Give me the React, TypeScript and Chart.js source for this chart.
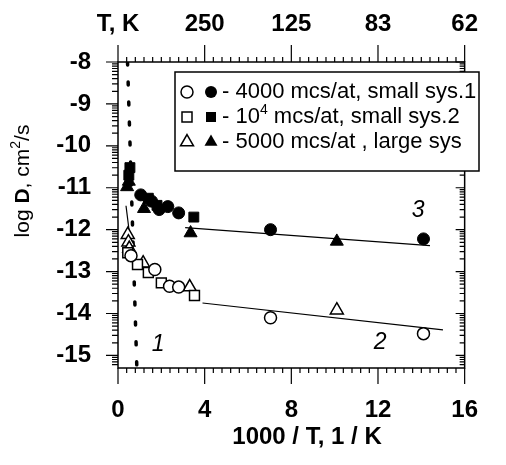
import React, { useEffect, useRef } from 'react';
import { Chart, registerables } from 'chart.js';
Chart.register(...registerables);

const FONT = "'Liberation Sans', Arial, sans-serif";

const xTicks = [0, 4, 8, 12, 16];
const topTickLabels = ['T, K', '250', '125', '83', '62'];
const yTicks = [-8, -9, -10, -11, -12, -13, -14, -15];

const filledCircleX = [1.05, 1.55, 1.9, 2.3, 2.8, 7.04, 14.1];
const filledCircleY = [-11.17, -11.32, -11.52, -11.45, -11.6, -12.0, -12.22];
const filledSquareX = [0.55, 0.5, 1.4, 1.8, 3.5];
const filledSquareY = [-10.52, -10.7, -11.25, -11.42, -11.7];
const filledTriangleX = [0.5, 0.42, 1.2, 3.35, 10.1];
const filledTriangleY = [-10.85, -10.98, -11.5, -12.08, -12.28];

const openCircleX = [0.6, 1.7, 2.38, 2.8, 7.04, 14.1];
const openCircleY = [-12.62, -12.95, -13.35, -13.37, -14.1, -14.48];
const openSquareX = [0.45, 0.9, 1.4, 2.0, 3.53];
const openSquareY = [-12.55, -12.83, -13.02, -13.27, -13.57];
const openTriangleX = [0.45, 0.48, 0.52, 1.16, 3.31, 10.1];
const openTriangleY = [-12.12, -12.3, -12.45, -12.8, -13.37, -13.92];

const line1X = [0.37, 0.73];
const line1Y = [-11.43, -12.94];
const line2X = [3.9, 15.0];
const line2Y = [-13.75, -14.39];
const line3X = [3.1, 14.4];
const line3Y = [-11.95, -12.38];
const dottedX = [0.44, 0.87];
const dottedY = [-8, -15.3];

const curveLabels = ['1', '2', '3'];
const curveLabelX = [1.85, 12.1, 13.85];
const curveLabelY = [-14.74, -14.7, -11.55];

const legendTexts = ['- 4000 mcs/at, small sys.1', '- 10|4| mcs/at, small sys.2', '- 5000 mcs/at , large sys'];

const pts = (xs: number[], ys: number[]) => xs.map((x, i) => ({ x, y: ys[i] }));

function drawSymbol(ctx: CanvasRenderingContext2D, shape: string, x: number, y: number, filled: boolean) {
  ctx.beginPath();
  if (shape === 'circle') {
    ctx.arc(x, y, 6, 0, Math.PI * 2);
  } else if (shape === 'rect') {
    const s = 5;
    ctx.rect(x - s, y - s, 2 * s, 2 * s);
  } else {
    const r = 7.5;
    ctx.moveTo(x, y - r);
    ctx.lineTo(x + r * Math.sin((2 * Math.PI) / 3), y - r * Math.cos((2 * Math.PI) / 3));
    ctx.lineTo(x + r * Math.sin((4 * Math.PI) / 3), y - r * Math.cos((4 * Math.PI) / 3));
    ctx.closePath();
  }
  if (filled) {
    ctx.fillStyle = '#000';
    ctx.fill();
  } else {
    ctx.fillStyle = '#fff';
    ctx.fill();
    ctx.lineWidth = 1.5;
    ctx.strokeStyle = '#000';
    ctx.stroke();
  }
}

const decorPlugin = {
  id: 'decor',
  afterDraw(chart: any) {
    const { ctx, chartArea: a, scales } = chart;
    const xs = scales.x;
    const ys = scales.y;
    ctx.save();
    ctx.strokeStyle = '#000';
    ctx.lineWidth = 1.5;
    ctx.strokeRect(a.left, a.top, a.right - a.left, a.bottom - a.top);

    ctx.lineWidth = 1.2;
    ctx.beginPath();
    for (let i = 0; i <= 40; i++) {
      const v = i * 0.4;
      const major = i % 10 === 0;
      const px = xs.getPixelForValue(v);
      ctx.moveTo(px, a.bottom);
      ctx.lineTo(px, a.bottom + (major ? 16 : 5));
      ctx.moveTo(px, a.top);
      ctx.lineTo(px, a.top - (major ? 17 : 5));
    }
    const ymin = ys.min, ymax = ys.max;
    for (let n = -16; n <= -8; n++) {
      if (n >= ymin - 1e-6 && n <= ymax + 1e-6) {
        const py = ys.getPixelForValue(n);
        ctx.moveTo(a.left, py);
        ctx.lineTo(a.left - 12, py);
        ctx.moveTo(a.right, py);
        ctx.lineTo(a.right - 9, py);
      }
      for (let k = 2; k <= 9; k++) {
        const v = n + Math.log10(k);
        if (v < ymin || v > ymax) continue;
        const py = ys.getPixelForValue(v);
        ctx.moveTo(a.left, py);
        ctx.lineTo(a.left - 6, py);
        ctx.moveTo(a.right, py);
        ctx.lineTo(a.right - 5, py);
      }
    }
    ctx.stroke();

    // curve labels
    ctx.fillStyle = '#000';
    ctx.font = `italic 23px ${FONT}`;
    ctx.textAlign = 'center';
    ctx.textBaseline = 'middle';
    curveLabels.forEach((t, i) => {
      ctx.fillText(t, xs.getPixelForValue(curveLabelX[i]), ys.getPixelForValue(curveLabelY[i]));
    });

    // x title
    ctx.font = `bold 24px ${FONT}`;
    ctx.fillText('1000 / T, 1 / K', 307, 437);

    // y title
    ctx.save();
    ctx.translate(23, 181);
    ctx.rotate(-Math.PI / 2);
    const parts: [string, string, number][] = [
      ['log ', `21px ${FONT}`, 0],
      ['D', `bold 21px ${FONT}`, 0],
      [', cm', `21px ${FONT}`, 0],
      ['2', `14px ${FONT}`, -7],
      ['/s', `21px ${FONT}`, 0],
    ];
    let total = 0;
    parts.forEach(([t, f]) => { ctx.font = f; total += ctx.measureText(t).width; });
    let cx = -total / 2;
    ctx.textAlign = 'left';
    parts.forEach(([t, f, dy]) => {
      ctx.font = f;
      ctx.fillText(t, cx, dy);
      cx += ctx.measureText(t).width;
    });
    ctx.restore();

    // legend
    const bx = 175, by = 72, bw = 304, bh = 99;
    ctx.fillStyle = '#fff';
    ctx.fillRect(bx, by, bw, bh);
    ctx.lineWidth = 1.5;
    ctx.strokeStyle = '#000';
    ctx.strokeRect(bx, by, bw, bh);
    const shapes = ['circle', 'rect', 'triangle'];
    const rowY = [92, 117, 142];
    shapes.forEach((s, i) => {
      drawSymbol(ctx, s, 187, rowY[i], false);
      drawSymbol(ctx, s, 211, rowY[i], true);
      const segs = legendTexts[i].split('|');
      let tx = 222;
      ctx.fillStyle = '#000';
      ctx.textAlign = 'left';
      ctx.textBaseline = 'middle';
      segs.forEach((seg, j) => {
        const sup = j % 2 === 1;
        ctx.font = sup ? `14px ${FONT}` : `22px ${FONT}`;
        ctx.fillText(seg, tx, rowY[i] + (sup ? -7 : 0));
        tx += ctx.measureText(seg).width;
      });
    });
    ctx.restore();
  },
};

export default function App() {
  const ref = useRef<HTMLCanvasElement>(null);
  useEffect(() => {
    if (!ref.current) return;
    const open = { backgroundColor: '#fff', borderColor: '#000', borderWidth: 1.5 };
    const filled = { backgroundColor: '#000', borderColor: '#000', borderWidth: 1 };
    const lineDs = (xs: number[], ys: number[], extra: any = {}) => ({
      type: 'line',
      data: pts(xs, ys),
      showLine: true,
      borderColor: '#000',
      borderWidth: 1.2,
      pointRadius: 0,
      fill: false,
      ...extra,
    });
    const tickFont = { family: FONT, size: 24, weight: 'bold' };
    const chart = new Chart(ref.current, {
      type: 'scatter',
      data: {
        datasets: [
          { data: pts(filledCircleX, filledCircleY), pointStyle: 'circle', pointRadius: 6, ...filled },
          { data: pts(filledSquareX, filledSquareY), pointStyle: 'rect', pointRadius: 7, ...filled },
          { data: pts(filledTriangleX, filledTriangleY), pointStyle: 'triangle', pointRadius: 7.5, ...filled },
          { data: pts(openCircleX, openCircleY), pointStyle: 'circle', pointRadius: 6, ...open },
          { data: pts(openSquareX, openSquareY), pointStyle: 'rect', pointRadius: 7, ...open },
          { data: pts(openTriangleX, openTriangleY), pointStyle: 'triangle', pointRadius: 7.5, ...open },
          lineDs(line1X, line1Y),
          lineDs(line2X, line2Y),
          lineDs(line3X, line3Y),
          lineDs(dottedX, dottedY, { borderWidth: 3.5, borderDash: [3, 17], borderCapStyle: 'round' }),
        ] as any,
      },
      options: {
        animation: false,
        responsive: false,
        layout: { padding: { left: 0, right: 16, top: 0, bottom: 0 } },
        plugins: { legend: { display: false }, tooltip: { enabled: false } },
        scales: {
          x: {
            type: 'linear',
            position: 'bottom',
            min: 0,
            max: 16,
            afterBuildTicks: (s: any) => { s.ticks = xTicks.map((v) => ({ value: v })); },
            afterFit: (s: any) => { s.height = 97; },
            grid: { display: false, drawTicks: false },
            border: { display: false },
            ticks: { color: '#000', font: tickFont, padding: 28, maxRotation: 0, callback: (v: any) => String(v) },
          },
          x2: {
            type: 'linear',
            position: 'top',
            min: 0,
            max: 16,
            afterBuildTicks: (s: any) => { s.ticks = xTicks.map((v) => ({ value: v })); },
            afterFit: (s: any) => { s.height = 62; },
            grid: { display: false, drawTicks: false },
            border: { display: false },
            ticks: {
              color: '#000',
              font: tickFont,
              padding: 23,
              maxRotation: 0,
              callback: (v: any) => topTickLabels[xTicks.indexOf(Number(v))] ?? '',
            },
          },
          y: {
            type: 'linear',
            min: -15.3,
            max: -8,
            afterBuildTicks: (s: any) => { s.ticks = yTicks.map((v) => ({ value: v })); },
            afterFit: (s: any) => { s.width = 118; },
            grid: { display: false, drawTicks: false },
            border: { display: false },
            ticks: { color: '#000', font: tickFont, padding: 27, callback: (v: any) => String(v) },
          },
        },
      } as any,
      plugins: [decorPlugin],
    });
    return () => chart.destroy();
  }, []);
  return (
    <div style={{ position: 'absolute', left: 0, top: 0, width: 506, height: 465, background: '#fff' }}>
      <canvas ref={ref} width={506} height={465} />
    </div>
  );
}
